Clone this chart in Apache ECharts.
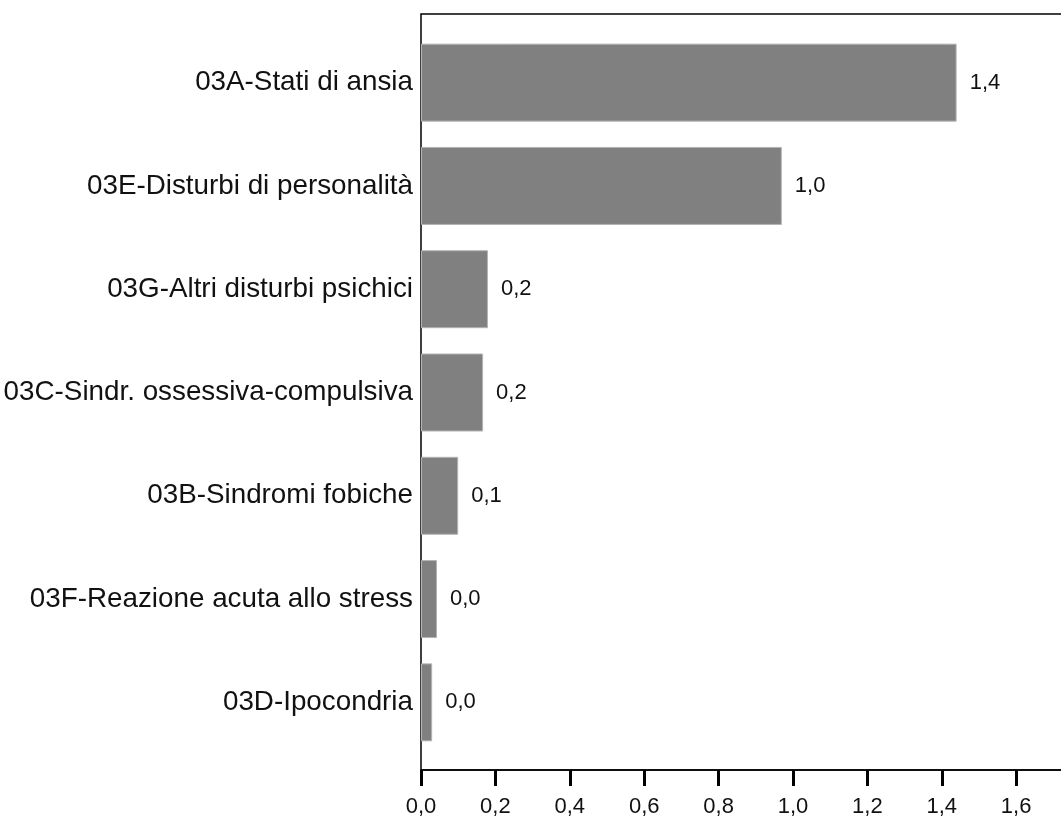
<!DOCTYPE html>
<html>
<head>
<meta charset="utf-8">
<script src="https://cdn.jsdelivr.net/npm/echarts@6/dist/echarts.min.js"></script>
<style>
html,body{margin:0;padding:0;background:#fff;overflow:hidden;}
#chart{width:1075px;height:816px;}
</style>
</head>
<body>
<div id="chart"></div>
<script>
const categories = [
  '03A-Stati di ansia',
  '03E-Disturbi di personalità',
  '03G-Altri disturbi psichici',
  '03C-Sindr. ossessiva-compulsiva',
  '03B-Sindromi fobiche',
  '03F-Reazione acuta allo stress',
  '03D-Ipocondria'
];
const values = [1.44, 0.97, 0.18, 0.167, 0.10, 0.043, 0.03];
const xMin = 0;
const xMax = 1.734;
const xStep = 0.2;

const fmt = v => Number(v).toFixed(1).replace('.', ',');
const FONT = "'Liberation Sans', Arial, sans-serif";

const chart = echarts.init(document.getElementById('chart'), null, {renderer: 'canvas'});
chart.setOption({
  backgroundColor: '#fff',
  animation: false,
  textStyle: {fontFamily: FONT},
  grid: [
    {left: 421, top: 14, right: 9, bottom: 46, outerBoundsMode: 'none', show: true, borderColor: '#000', borderWidth: 1.5, backgroundColor: 'transparent'},
    {left: 421, top: 31, right: 9, bottom: 62, outerBoundsMode: 'none'}
  ],
  xAxis: [
    {
      gridIndex: 0, type: 'value', min: xMin, max: xMax, interval: xStep,
      axisLine: {show: true, lineStyle: {color: '#000', width: 1.5}},
      axisTick: {show: true, length: 16, lineStyle: {color: '#000', width: 3}},
      axisLabel: {fontSize: 22, color: '#111', margin: 26, fontFamily: FONT, formatter: fmt, showMaxLabel: false},
      splitLine: {show: false}
    },
    {gridIndex: 1, type: 'value', min: xMin, max: xMax, show: false}
  ],
  yAxis: [
    {gridIndex: 0, type: 'value', show: false},
    {
      gridIndex: 1, type: 'category', data: categories, inverse: true,
      axisLine: {show: false}, axisTick: {show: false},
      axisLabel: {fontSize: 27.8, color: '#111', margin: 8, fontFamily: FONT}
    }
  ],
  series: [{
    type: 'bar', xAxisIndex: 1, yAxisIndex: 1,
    data: values, barWidth: '75.5%',
    itemStyle: {color: '#808080', borderColor: '#b4b4b4', borderWidth: 1},
    label: {show: true, position: 'right', distance: 13, fontSize: 22, color: '#111', fontFamily: FONT, formatter: p => fmt(p.value)}
  }]
});
</script>
</body>
</html>
